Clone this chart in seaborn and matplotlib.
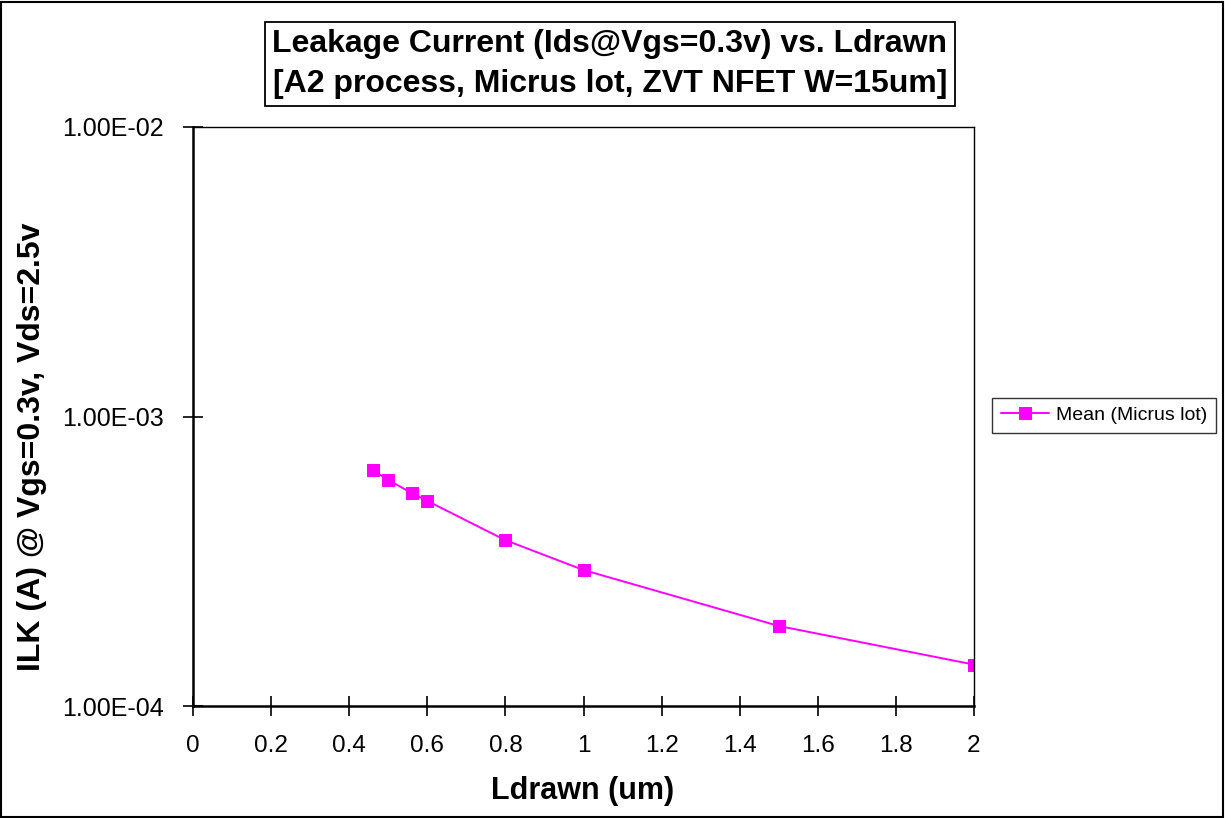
import matplotlib
matplotlib.use("Agg")
import matplotlib.pyplot as plt
import seaborn as sns
import pandas as pd
from matplotlib.patches import Rectangle

ldrawn = [0.46, 0.50, 0.56, 0.60, 0.80, 1.00, 1.50, 2.00]
ilk = [6.53e-4, 6.04e-4, 5.44e-4, 5.11e-4, 3.74e-4, 2.95e-4, 1.89e-4, 1.39e-4]
series_name = "Mean (Micrus lot)"
x_ticks = [0, 0.2, 0.4, 0.6, 0.8, 1, 1.2, 1.4, 1.6, 1.8, 2]
x_tick_labels = ["0", "0.2", "0.4", "0.6", "0.8", "1", "1.2", "1.4", "1.6", "1.8", "2"]
y_ticks = [1e-4, 1e-3, 1e-2]
y_tick_labels = ["1.00E-04", "1.00E-03", "1.00E-02"]

sns.set_theme(style="white")
plt.rcParams['font.family'] = ['Liberation Sans', 'DejaVu Sans']
for k in ["text.color", "axes.labelcolor", "xtick.color", "ytick.color", "axes.edgecolor"]:
    plt.rcParams[k] = "black"

df = pd.DataFrame({"Ldrawn": ldrawn, "ILK": ilk, "series": series_name})

fig = plt.figure(figsize=(12.25, 8.18), dpi=100)
ax = fig.add_axes([193/1225, 1-706/818, (974-193)/1225, (706-127)/818])

sns.lineplot(data=df, x="Ldrawn", y="ILK", hue="series", palette=["#FF00FF"],
             marker="s", markersize=9, markeredgecolor="#FF00FF", linewidth=1.4,
             ax=ax, legend=True)

ax.set_yscale("log")
ax.set_xlim(0, 2)
ax.set_ylim(1e-4, 1e-2)
ax.set_xticks(x_ticks)
ax.set_xticklabels(x_tick_labels, fontsize=17.5)
ax.set_yticks(y_ticks)
ax.set_yticklabels(y_tick_labels, fontsize=18)
ax.minorticks_off()
ax.tick_params(axis="both", direction="inout", length=14, width=1.2, color="black",
               bottom=True, left=True)
ax.tick_params(axis="y", pad=14)
ax.tick_params(axis="x", pad=14)
for side in ["left", "bottom"]:
    ax.spines[side].set_color("black")
    ax.spines[side].set_linewidth(1.8)
for side in ["right", "top"]:
    ax.spines[side].set_color("black")
    ax.spines[side].set_linewidth(1.0)

ax.set_xlabel("Ldrawn (um)", fontsize=22, fontweight="bold")
ax.xaxis.set_label_coords((583-193)/781, -(791-706)/579)
ax.set_ylabel("ILK (A) @ Vgs=0.3v, Vds=2.5v", fontsize=23, fontweight="bold")
ax.yaxis.set_label_coords(-(193-32)/781, (706-447)/579)
ax.xaxis.label.set_va("center")
ax.yaxis.label.set_va("center")

leg = ax.legend(loc="center left", bbox_to_anchor=(1.023, 0.502), fontsize=14,
                frameon=True, fancybox=False, edgecolor="black", borderpad=0.45,
                borderaxespad=0, handlelength=2.5, handletextpad=0.35)
leg.get_frame().set_linewidth(1.0)

fig.text(610/1225, 1-64/818,
         "Leakage Current (Ids@Vgs=0.3v) vs. Ldrawn\n[A2 process, Micrus lot, ZVT NFET W=15um]",
         ha="center", va="center", fontsize=23, fontweight="bold", linespacing=1.45,
         bbox=dict(boxstyle="square,pad=0.22", facecolor="white", edgecolor="black", linewidth=1.3))

fig.patches.append(Rectangle((1/1225, 1/818), 1-3/1225, 1-3/818, transform=fig.transFigure,
                             fill=False, edgecolor="black", linewidth=1.5))

fig.savefig("out.png", dpi=100)
